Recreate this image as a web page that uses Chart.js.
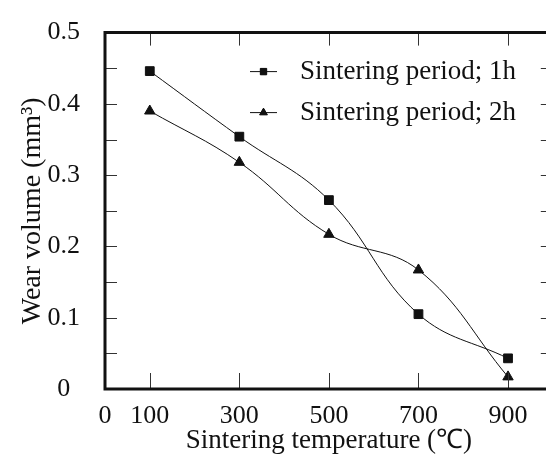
<!DOCTYPE html>
<html>
<head>
<meta charset="utf-8">
<script src="https://cdn.jsdelivr.net/npm/chart.js@4.4.0/dist/chart.umd.min.js"></script>
<style>
  html, body { margin: 0; padding: 0; background: #fff; overflow: hidden; }
  canvas { display: block; }
</style>
</head>
<body>
<canvas id="wearChart" width="560" height="457" style="width:560px;height:457px"></canvas>
<script>
// values
const temperatures = [100, 300, 500, 700, 900];
const wear1h = [0.446, 0.354, 0.265, 0.105, 0.043];
const wear2h = [0.390, 0.318, 0.217, 0.167, 0.017];
const seriesLabels = ['Sintering period; 1h', 'Sintering period; 2h'];
const xTickLabels = [0, 100, 300, 500, 700, 900];
const xTickMarks = [100, 300, 500, 700, 900];
const yTickLabels = [0, 0.1, 0.2, 0.3, 0.4, 0.5];
const yTickMarks = [0.05, 0.1, 0.15, 0.2, 0.25, 0.3, 0.35, 0.4, 0.45];

const serif = 'Liberation Serif';
const ink = '#111';
Chart.defaults.font.family = serif;

// box around the plot with inward ticks, plus the legend inside the plot
const framePlugin = {
  id: 'frame',
  afterDatasetsDraw(chart) {
    const { ctx, chartArea: a, scales: { x, y } } = chart;
    const len = 12;
    ctx.save();
    ctx.strokeStyle = '#333';
    ctx.lineWidth = 1;
    ctx.beginPath();
    xTickMarks.forEach(v => {
      const px = Math.round(x.getPixelForValue(v)) + 0.5;
      ctx.moveTo(px, a.top); ctx.lineTo(px, a.top + len + 1);
      ctx.moveTo(px, a.bottom); ctx.lineTo(px, a.bottom - len - 4);
    });
    yTickMarks.forEach(v => {
      const py = Math.round(y.getPixelForValue(v)) + 0.5;
      ctx.moveTo(a.left, py); ctx.lineTo(a.left + len, py);
      ctx.moveTo(a.right, py); ctx.lineTo(a.right - len, py);
    });
    ctx.stroke();

    ctx.strokeStyle = ink;
    ctx.lineWidth = 3;
    ctx.beginPath();
    ctx.moveTo(a.left, a.top); ctx.lineTo(a.right, a.top);
    ctx.moveTo(a.left, a.top - 1.5); ctx.lineTo(a.left, a.bottom + 1.5);
    ctx.moveTo(a.left, a.bottom); ctx.lineTo(a.right, a.bottom);
    ctx.moveTo(a.right, a.top); ctx.lineTo(a.right, a.bottom);
    ctx.stroke();

    // legend
    ctx.textBaseline = 'middle';
    ctx.textAlign = 'left';
    ctx.fillStyle = ink;
    chart.data.datasets.forEach((ds, i) => {
      const ly = a.top + 39 + i * 41;
      const lx = a.left + 145;
      ctx.strokeStyle = ink;
      ctx.lineWidth = 1;
      ctx.beginPath();
      ctx.moveTo(lx, ly); ctx.lineTo(lx + 27, ly);
      ctx.stroke();
      Chart.helpers.drawPoint(ctx, { pointStyle: ds.pointStyle, radius: 4.5, borderWidth: 1 }, lx + 13.5, ly);
      ctx.fill();
      ctx.font = '27px ' + serif;
      ctx.fillText(ds.label, lx + 50, ly);
    });
    ctx.restore();
  }
};

new Chart(document.getElementById('wearChart'), {
  type: 'line',
  data: {
    datasets: [
      {
        label: seriesLabels[0],
        data: temperatures.map((t, i) => ({ x: t, y: wear1h[i] })),
        pointStyle: 'rect',
        pointRadius: 6.2,
        borderColor: ink,
        backgroundColor: ink,
        pointBackgroundColor: ink,
        borderWidth: 1,
        tension: 0.4
      },
      {
        label: seriesLabels[1],
        data: temperatures.map((t, i) => ({ x: t, y: wear2h[i] })),
        pointStyle: 'triangle',
        pointRadius: 6,
        borderColor: ink,
        backgroundColor: ink,
        pointBackgroundColor: ink,
        borderWidth: 1,
        tension: 0.4
      }
    ]
  },
  options: {
    responsive: false,
    animation: false,
    layout: { padding: { top: 23, right: 6, left: 0, bottom: 0 } },
    plugins: { legend: { display: false }, tooltip: { enabled: false } },
    scales: {
      x: {
        type: 'linear',
        min: 0,
        max: 1000,
        afterBuildTicks: s => { s.ticks = xTickLabels.map(v => ({ value: v })); },
        afterFit: s => { s.height = 68; },
        grid: { display: false },
        border: { display: false },
        ticks: {
          color: ink,
          font: { family: serif, size: 26 },
          padding: 4,
          maxRotation: 0,
          autoSkip: false
        },
        title: {
          display: true,
          text: 'Sintering temperature (℃)',
          color: ink,
          font: { family: serif, size: 27 },
          padding: { top: 0, bottom: 0 }
        }
      },
      y: {
        min: 0,
        max: 0.5,
        afterBuildTicks: s => { s.ticks = yTickLabels.map(v => ({ value: v })); },
        afterFit: s => { s.width = 105; },
        grid: { display: false },
        border: { display: false },
        ticks: {
          color: ink,
          font: { family: serif, size: 26 },
          padding: 17,
          crossAlign: 'center',
          callback: v => v === 0 ? '0' : v.toFixed(1)
        },
        title: {
          display: true,
          text: 'Wear volume (mm³)',
          color: ink,
          font: { family: serif, size: 28 },
          padding: { top: 16, bottom: 0 }
        }
      }
    }
  },
  plugins: [framePlugin]
});
</script>
</body>
</html>
